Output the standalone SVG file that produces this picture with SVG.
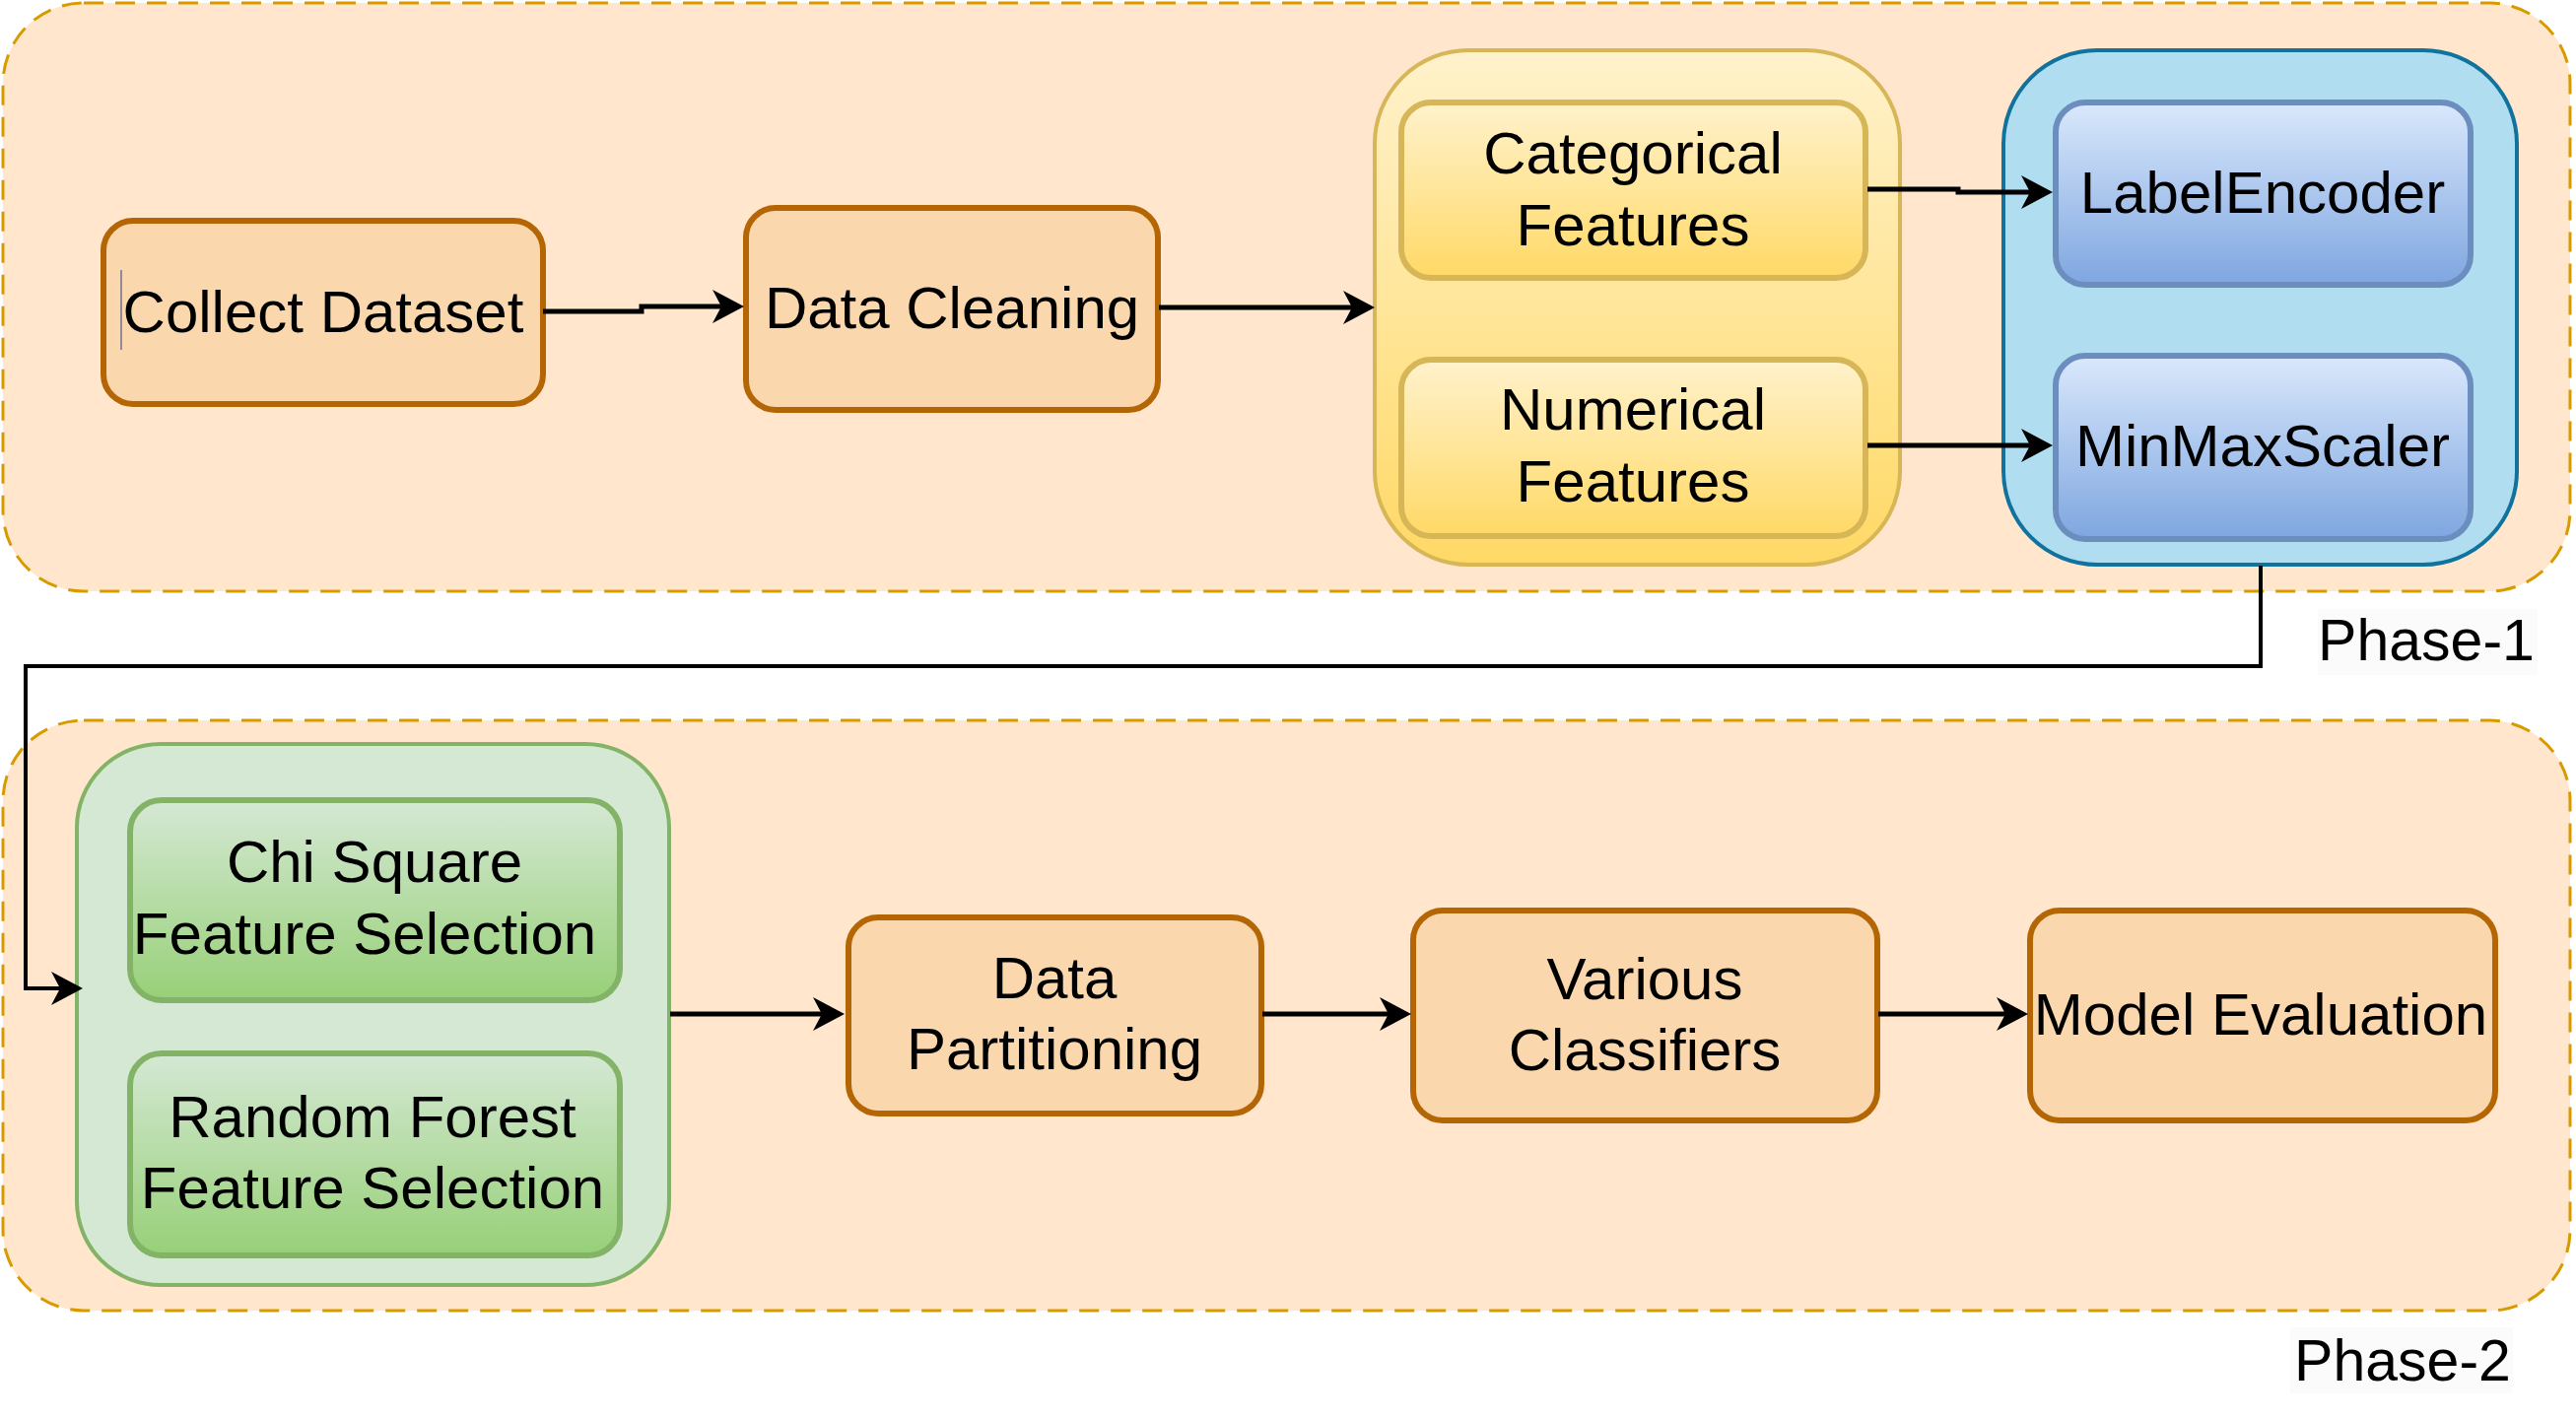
<svg xmlns="http://www.w3.org/2000/svg" width="2614" height="1440" viewBox="0 0 2614 1440">
<defs>
  <linearGradient id="gY" x1="0" y1="0" x2="0" y2="1"><stop offset="0" stop-color="#fff2cc"/><stop offset="1" stop-color="#ffd966"/></linearGradient>
  <linearGradient id="gB" x1="0" y1="0" x2="0" y2="1"><stop offset="0" stop-color="#dae8fc"/><stop offset="1" stop-color="#7ea6e0"/></linearGradient>
  <linearGradient id="gG" x1="0" y1="0" x2="0" y2="1"><stop offset="0" stop-color="#d5e8d4"/><stop offset="1" stop-color="#97d077"/></linearGradient>
  <marker id="arr" markerUnits="userSpaceOnUse" markerWidth="36" markerHeight="36" viewBox="0 0 36 36" refX="21" refY="18" orient="auto">
    <path d="M0,1 L32,18 L0,35 L9,18 Z" fill="#000"/>
  </marker>
  <style>
    .phase{fill:#ffe6cc;stroke:#d79b00;stroke-width:3;stroke-dasharray:20 12}
    .org{fill:#fad7ac;stroke:#b46504;stroke-width:6}
    .ygrp{fill:url(#gY);stroke:#d6b656;stroke-width:4}
    .ybox{fill:url(#gY);stroke:#d6b656;stroke-width:6}
    .bgrp{fill:#b1ddf0;stroke:#10739e;stroke-width:4}
    .bbox{fill:url(#gB);stroke:#6c8ebf;stroke-width:6}
    .ggrp{fill:#d5e8d4;stroke:#82b366;stroke-width:4}
    .gbox{fill:url(#gG);stroke:#82b366;stroke-width:6}
    .t{font-family:"Liberation Sans",Arial,Helvetica,sans-serif;font-size:60px;fill:#000;text-anchor:middle}
    .lbl{fill:#fbfbfb}
    .c{fill:none;stroke:#000;stroke-width:5;marker-end:url(#arr)}
    .c2{fill:none;stroke:#000;stroke-width:4;marker-end:url(#arr)}
  </style>
</defs>
<rect width="2614" height="1440" fill="#ffffff"/>

<g id="phase1">
  <rect class="phase" x="3" y="3" width="2605" height="597" rx="82" ry="82"/>
  <rect class="lbl" x="2352" y="618" width="223" height="67"/>
  <text class="t" x="2462" y="670" style="font-size:59px">Phase-1</text>
</g>
<g id="phase2">
  <rect class="phase" x="3" y="731" width="2605" height="599" rx="82" ry="82"/>
  <rect class="lbl" x="2324" y="1347" width="226" height="67"/>
  <text class="t" x="2438" y="1401" style="font-size:59px">Phase-2</text>
</g>

<g id="collect-dataset">
  <rect class="org" x="105" y="224" width="446" height="186" rx="30" ry="30"/>
  <text class="t" x="328" y="337">Collect Dataset</text>
  <line x1="123" y1="274" x2="123" y2="355" stroke="#2a3a8a" stroke-width="1"/>
</g>
<g id="data-cleaning">
  <rect class="org" x="757" y="211" width="418" height="205" rx="30" ry="30"/>
  <text class="t" x="966" y="333">Data Cleaning</text>
</g>

<g id="feature-types">
  <rect class="ygrp" x="1395" y="51" width="533" height="522" rx="95" ry="95"/>
</g>
<g id="categorical-features">
  <rect class="ybox" x="1422" y="104" width="471" height="178" rx="30" ry="30"/>
  <text class="t" x="1657" y="176">Categorical</text>
  <text class="t" x="1657" y="249">Features</text>
</g>
<g id="numerical-features">
  <rect class="ybox" x="1422" y="365" width="471" height="179" rx="30" ry="30"/>
  <text class="t" x="1657" y="436">Numerical</text>
  <text class="t" x="1657" y="509">Features</text>
</g>

<g id="encoders">
  <rect class="bgrp" x="2033" y="51" width="521" height="522" rx="95" ry="95"/>
</g>
<g id="label-encoder">
  <rect class="bbox" x="2086" y="104" width="421" height="185" rx="30" ry="30"/>
  <text class="t" x="2296" y="216">LabelEncoder</text>
</g>
<g id="minmax-scaler">
  <rect class="bbox" x="2086" y="361" width="421" height="186" rx="30" ry="30"/>
  <text class="t" x="2296" y="473">MinMaxScaler</text>
</g>

<g id="feature-selection">
  <rect class="ggrp" x="78" y="755" width="601" height="549" rx="85" ry="85"/>
</g>
<g id="chi-square">
  <rect class="gbox" x="132" y="812" width="497" height="203" rx="32" ry="32"/>
  <text class="t" x="380" y="895">Chi Square</text>
  <text class="t" x="370" y="968">Feature Selection</text>
</g>
<g id="random-forest">
  <rect class="gbox" x="132" y="1069" width="497" height="205" rx="32" ry="32"/>
  <text class="t" x="378" y="1154">Random Forest</text>
  <text class="t" x="378" y="1226">Feature Selection</text>
</g>

<g id="data-partitioning">
  <rect class="org" x="861" y="931" width="419" height="199" rx="30" ry="30"/>
  <text class="t" x="1070" y="1013">Data</text>
  <text class="t" x="1070" y="1085">Partitioning</text>
</g>
<g id="various-classifiers">
  <rect class="org" x="1434" y="924" width="471" height="213" rx="30" ry="30"/>
  <text class="t" x="1669" y="1014">Various</text>
  <text class="t" x="1669" y="1086">Classifiers</text>
</g>
<g id="model-evaluation">
  <rect class="org" x="2060" y="924" width="472" height="213" rx="30" ry="30"/>
  <text class="t" x="2294" y="1050">Model Evaluation</text>
</g>

<g id="connectors">
  <path class="c" d="M551,316 H651 V311 H744"/>
  <path class="c" d="M1176,312 H1384"/>
  <path class="c" d="M1895,192 H1987 V195 H2072"/>
  <path class="c" d="M1895,452 H2072"/>
  <path class="c2" d="M2294,574 V676 H26 V1003 H73"/>
  <path class="c" d="M680,1029 H846"/>
  <path class="c" d="M1281,1029 H1421"/>
  <path class="c" d="M1906,1029 H2047"/>
</g>
</svg>
